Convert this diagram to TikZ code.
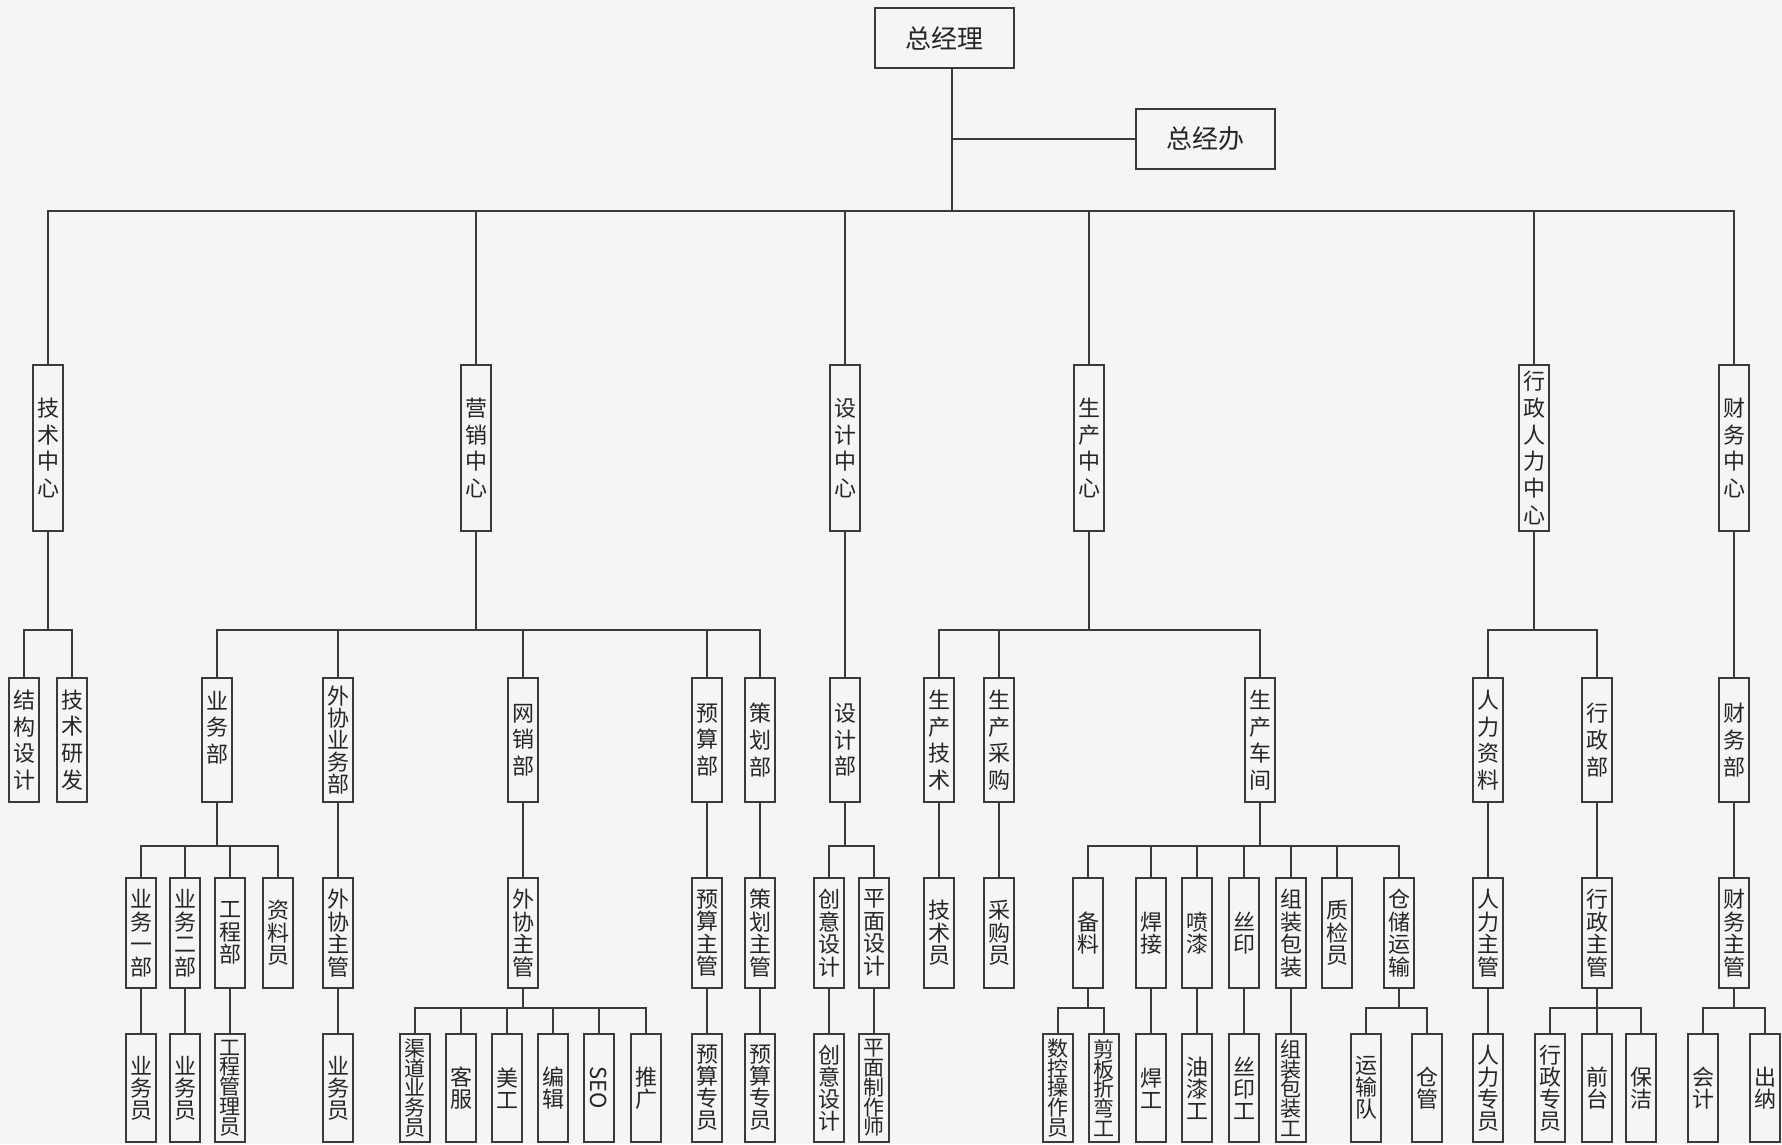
\documentclass[tikz,border=0pt]{standalone}
\usepackage{fontspec}
\usepackage{graphicx}
\setmainfont{Noto Sans CJK SC}
\lineskiplimit=-100pt
\definecolor{bg}{HTML}{F5F5F3}
\definecolor{ink}{HTML}{3A3A3A}
\definecolor{txt}{HTML}{262626}
\tikzset{
  orgbox/.style={draw=ink, line width=2pt, text=txt, inner sep=0pt, align=center,
    minimum width=30pt, font=\fontsize{22}{22}\selectfont},
  boss/.style={orgbox, minimum width=139pt, minimum height=60pt, font=\fontsize{26}{30}\selectfont},
  lvA/.style={orgbox, minimum height=166pt, font=\fontsize{22}{26.7}\selectfont},
  lvB/.style={orgbox, minimum height=124pt, font=\fontsize{22}{26.7}\selectfont},
  lvC/.style={orgbox, minimum height=110pt, font=\fontsize{22}{22.5}\selectfont},
  lvD/.style={orgbox, minimum height=108pt, font=\fontsize{22}{22}\selectfont},
  packed/.style={font=\fontsize{21}{19.8}\selectfont},
  link/.style={draw=ink, line width=2pt}
}
\begin{document}
\begin{tikzpicture}[x=1pt, y=-1pt]
\fill[bg] (0,0) rectangle (1782,1144);
\useasboundingbox (0,0) rectangle (1782,1144);

\node[boss] (zjl) at (944.5,38) {总经理};
\node[boss] (zjb) at (1205.5,139) {总经办};
\coordinate (hub) at (952,211);

% centres
\node[lvA] (js) at (48,448) {技\\术\\中\\心};
\node[lvA] (yx) at (476,448) {营\\销\\中\\心};
\node[lvA] (sj) at (845,448) {设\\计\\中\\心};
\node[lvA] (sc) at (1089,448) {生\\产\\中\\心};
\node[lvA] (xz) at (1534,448) {行\\政\\人\\力\\中\\心};
\node[lvA] (cw) at (1734,448) {财\\务\\中\\心};

% departments
\node[lvB] (jg) at (24,740) {结\\构\\设\\计};
\node[lvB] (jy) at (72,740) {技\\术\\研\\发};
\node[lvB] (ywb) at (217,740) {业\\务\\部\\\mbox{}};
\node[lvB, font=\fontsize{22}{22}\selectfont] (wxb) at (338,740) {外\\协\\业\\务\\部};
\node[lvB] (wx) at (523,740) {网\\销\\部};
\node[lvB] (ysb) at (707,740) {预\\算\\部};
\node[lvB] (chb) at (760,740) {策\\划\\部};
\node[lvB] (sjb) at (845,740) {设\\计\\部};
\node[lvB] (scjs) at (939,740) {生\\产\\技\\术};
\node[lvB] (sccg) at (999,740) {生\\产\\采\\购};
\node[lvB] (sccj) at (1260,740) {生\\产\\车\\间};
\node[lvB] (rlzl) at (1488,740) {人\\力\\资\\料};
\node[lvB] (xzb) at (1597,740) {行\\政\\部};
\node[lvB] (cwb) at (1734,740) {财\\务\\部};

% posts
\node[lvC] (yw1) at (141,933) {业\\务\\一\\部};
\node[lvC] (yw2) at (185,933) {业\\务\\二\\部};
\node[lvC] (gcb) at (230,933) {工\\程\\部};
\node[lvC] (zly) at (278,933) {资\\料\\员};
\node[lvC] (wxzg) at (338,933) {外\\协\\主\\管};
\node[lvC] (wxzgb) at (523,933) {外\\协\\主\\管};
\node[lvC] (yszg) at (707,933) {预\\算\\主\\管};
\node[lvC] (chzg) at (760,933) {策\\划\\主\\管};
\node[lvC] (cysj) at (829,933) {创\\意\\设\\计};
\node[lvC] (pmsj) at (874,933) {平\\面\\设\\计};
\node[lvC] (jsy) at (939,933) {技\\术\\员};
\node[lvC] (cgy) at (999,933) {采\\购\\员};
\node[lvC] (bl) at (1088,933) {备\\料};
\node[lvC] (hj) at (1151,933) {焊\\接};
\node[lvC] (pq) at (1197,933) {喷\\漆};
\node[lvC] (sy) at (1244,933) {丝\\印};
\node[lvC] (zzbz) at (1291,933) {组\\装\\包\\装};
\node[lvC] (zjy) at (1337,933) {质\\检\\员};
\node[lvC] (ccys) at (1399,933) {仓\\储\\运\\输};
\node[lvC] (rlzg) at (1488,933) {人\\力\\主\\管};
\node[lvC] (xzzg) at (1597,933) {行\\政\\主\\管};
\node[lvC] (cwzg) at (1734,933) {财\\务\\主\\管};

% staff
\node[lvD] (ywy1) at (141,1088) {业\\务\\员};
\node[lvD] (ywy2) at (185,1088) {业\\务\\员};
\node[lvD, packed] (gcgly) at (230,1088) {工\\程\\管\\理\\员};
\node[lvD] (ywy3) at (338,1088) {业\\务\\员};
\node[lvD, packed] (qdyw) at (415,1088) {渠\\道\\业\\务\\员};
\node[lvD] (kf) at (461,1088) {客\\服};
\node[lvD] (mg) at (507,1088) {美\\工};
\node[lvD] (bj) at (553,1088) {编\\辑};
\node[lvD] (seo) at (599,1088) {\rotatebox{-90}{SEO}};
\node[lvD] (tg) at (646,1088) {推\\广};
\node[lvD] (yszy) at (707,1088) {预\\算\\专\\员};
\node[lvD] (yszyb) at (760,1088) {预\\算\\专\\员};
\node[lvD] (cysjb) at (829,1088) {创\\意\\设\\计};
\node[lvD, packed] (pmzzs) at (874,1088) {平\\面\\制\\作\\师};
\node[lvD, packed] (skcz) at (1058,1088) {数\\控\\操\\作\\员};
\node[lvD, packed] (jbzw) at (1104,1088) {剪\\板\\折\\弯\\工};
\node[lvD] (hg) at (1151,1088) {焊\\工};
\node[lvD] (yqg) at (1197,1088) {油\\漆\\工};
\node[lvD] (syg) at (1244,1088) {丝\\印\\工};
\node[lvD, packed] (zzbzg) at (1291,1088) {组\\装\\包\\装\\工};
\node[lvD] (ysd) at (1366,1088) {运\\输\\队};
\node[lvD] (cg) at (1427,1088) {仓\\管};
\node[lvD] (rlzy) at (1488,1088) {人\\力\\专\\员};
\node[lvD] (xzzy) at (1550,1088) {行\\政\\专\\员};
\node[lvD] (qt) at (1597,1088) {前\\台};
\node[lvD] (bjie) at (1641,1088) {保\\洁};
\node[lvD] (kj) at (1703,1088) {会\\计};
\node[lvD] (cn) at (1765,1088) {出\\纳};

% connectors
\draw[link] (zjl.south -| hub) -- (hub);
\draw[link] (hub |- zjb.west) -- (zjb.west);
\foreach \dn in {js,yx,sj,sc,xz,cw}
  \draw[link] (hub) -| (\dn.north);
\foreach \up/\dn in {js/jg,js/jy,yx/ywb,yx/wxb,yx/wx,yx/ysb,yx/chb,sj/sjb,
    sc/scjs,sc/sccg,sc/sccj,xz/rlzl,xz/xzb,cw/cwb}
  \draw[link] (\up.south) -- ++(0,98) -| (\dn.north);
\foreach \up/\dn in {ywb/yw1,ywb/yw2,ywb/gcb,ywb/zly,wxb/wxzg,wx/wxzgb,ysb/yszg,
    chb/chzg,sjb/cysj,sjb/pmsj,scjs/jsy,sccg/cgy,sccj/bl,sccj/hj,sccj/pq,sccj/sy,
    sccj/zzbz,sccj/zjy,sccj/ccys,rlzl/rlzg,xzb/xzzg,cwb/cwzg}
  \draw[link] (\up.south) -- ++(0,43) -| (\dn.north);
\foreach \up/\dn in {yw1/ywy1,yw2/ywy2,gcb/gcgly,wxzg/ywy3,wxzgb/qdyw,wxzgb/kf,
    wxzgb/mg,wxzgb/bj,wxzgb/seo,wxzgb/tg,yszg/yszy,chzg/yszyb,cysj/cysjb,pmsj/pmzzs,
    bl/skcz,bl/jbzw,hj/hg,pq/yqg,sy/syg,zzbz/zzbzg,ccys/ysd,ccys/cg,rlzg/rlzy,
    xzzg/xzzy,xzzg/qt,xzzg/bjie,cwzg/kj,cwzg/cn}
  \draw[link] (\up.south) -- ++(0,19) -| (\dn.north);
\end{tikzpicture}
\end{document}
